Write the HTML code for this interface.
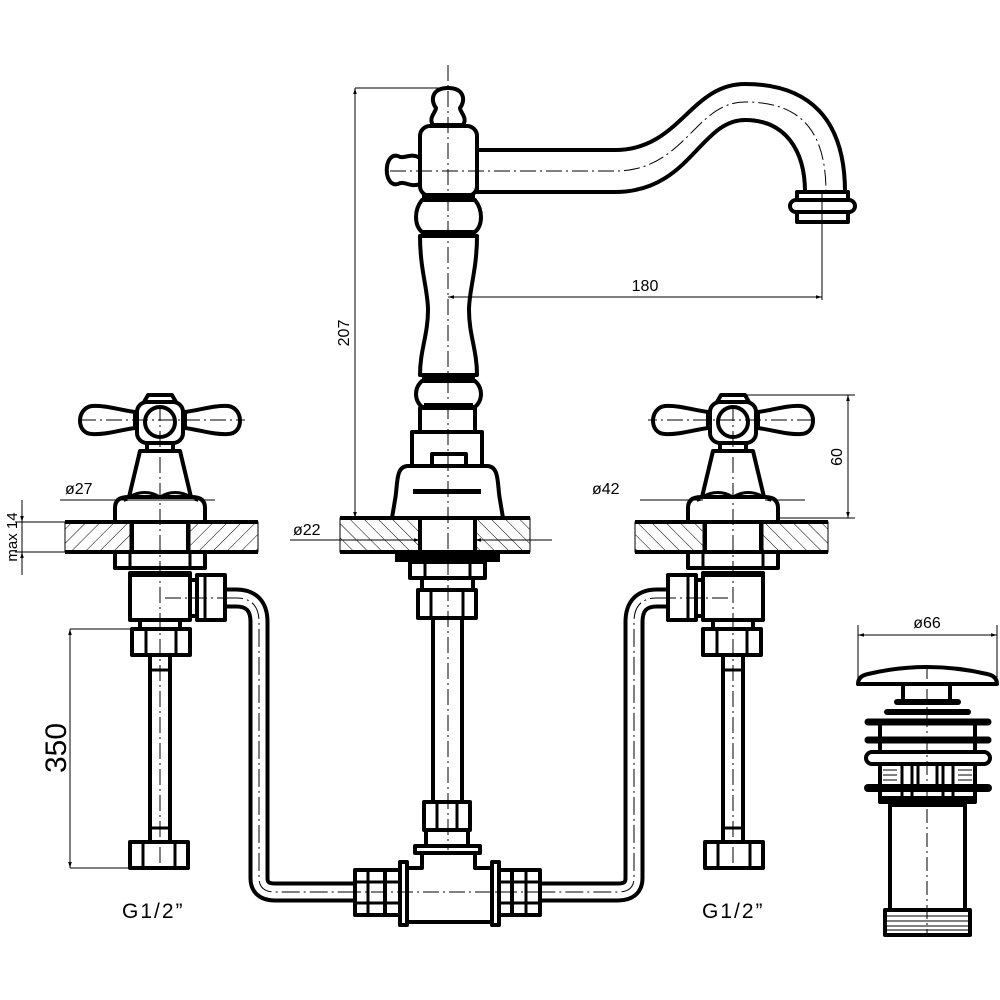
<!DOCTYPE html>
<html><head><meta charset="utf-8"><style>
html,body{margin:0;padding:0;background:#fff;}
svg{display:block;}
text{font-family:"Liberation Sans Narrow","Liberation Sans",sans-serif;fill:#000;}
</style></head><body>
<svg width="1000" height="1000" viewBox="0 0 1000 1000" xmlns="http://www.w3.org/2000/svg">
<defs>
<pattern id="h" patternUnits="userSpaceOnUse" width="10" height="10" patternTransform="rotate(45)">
<line x1="0" y1="0" x2="0" y2="10" stroke="#000" stroke-width="1"/></pattern>
<pattern id="h2" patternUnits="userSpaceOnUse" width="10" height="10" patternTransform="rotate(-45)">
<line x1="0" y1="0" x2="0" y2="10" stroke="#000" stroke-width="1"/></pattern>
<marker id="a" viewBox="0 0 10 10" refX="10" refY="5" markerWidth="10" markerHeight="6" orient="auto-start-reverse" markerUnits="userSpaceOnUse">
<path d="M0,2 L10,5 L0,8 Z" fill="#000"/></marker>
<g id="tap">
 <!-- hose -->
 <path d="M225,598 H236 Q259,598 259,622 V878 Q259,892 275,892 H356" fill="none" stroke="#000" stroke-width="21"/>
 <path d="M225,598 H236 Q259,598 259,622 V878 Q259,892 275,892 H356" fill="none" stroke="#fff" stroke-width="13"/>
 <path d="M225,598 H236 Q259,598 259,622 V878 Q259,892 275,892 H356" fill="none" stroke="#000" stroke-width="1" stroke-dasharray="18,4,2,4"/>
 <g fill="#fff" stroke="#000" stroke-width="4" stroke-linejoin="round">
  <path d="M185,412 C200,410 215,405 228,406 C244,408 244,434 228,434 C215,435 200,430 185,428 Z"/>
  <path d="M135,412 C120,410 105,405 92,406 C76,408 76,434 92,434 C105,435 120,430 135,428 Z"/>
  <path d="M144,402 L148,395 H172 L176,402 Z"/>
  <rect x="137" y="402" width="46" height="41" rx="10"/>
  <circle cx="160" cy="422" r="15"/>
  <rect x="147" y="443" width="26" height="8"/>
  <path d="M140,451 L180,451 L191,497 L129,497 Z"/>
  <path d="M115,522 V508 Q115,497 128,497 H192 Q205,497 205,508 V522"/>
  <rect x="115" y="552" width="90" height="16"/>
  <rect x="130" y="573" width="60" height="47"/>
  <rect x="190" y="580" width="8" height="36"/>
  <rect x="197" y="575" width="28" height="45"/>
  <rect x="140" y="620" width="40" height="9"/>
  <rect x="132" y="629" width="58" height="26"/>
  <rect x="150" y="655" width="20" height="187"/>
  <rect x="130" y="842" width="58" height="26"/>
 </g>
 <path d="M129,497 Q145,488 160,497 Q175,488 191,497" fill="none" stroke="#000" stroke-width="3"/>
 <rect x="130" y="571" width="60" height="6" fill="#000"/>
 <g stroke="#000" stroke-width="3">
  <line x1="130" y1="552" x2="130" y2="568"/><line x1="190" y1="552" x2="190" y2="568"/>
  <line x1="146" y1="629" x2="146" y2="655"/><line x1="176" y1="629" x2="176" y2="655"/>
  <line x1="143" y1="842" x2="143" y2="868"/><line x1="175" y1="842" x2="175" y2="868"/>
  <line x1="150" y1="670" x2="170" y2="670"/><line x1="150" y1="828" x2="170" y2="828"/>
  <line x1="205" y1="575" x2="205" y2="620"/>
 </g>
 <!-- deck -->
 <rect x="65" y="522" width="65" height="30" fill="url(#h)" stroke="#000" stroke-width="1"/>
 <rect x="190" y="522" width="68" height="30" fill="url(#h)" stroke="#000" stroke-width="1"/>
 <line x1="65" y1="522" x2="258" y2="522" stroke="#000" stroke-width="4"/>
 <line x1="65" y1="552" x2="258" y2="552" stroke="#000" stroke-width="4"/>
 <line x1="132" y1="522" x2="132" y2="552" stroke="#000" stroke-width="4"/>
 <line x1="188" y1="522" x2="188" y2="552" stroke="#000" stroke-width="4"/>
 <g stroke="#000" stroke-width="1" stroke-dasharray="16,4,2,4">
  <line x1="160" y1="405" x2="160" y2="870"/>
  <line x1="80" y1="420" x2="245" y2="420"/>
  <line x1="165" y1="598" x2="225" y2="598"/>
 </g>
</g>
</defs>

<use href="#tap"/>
<use href="#tap" transform="translate(893,0) scale(-1,1)"/>

<!-- center column -->
<g fill="#fff" stroke="#000" stroke-width="4" stroke-linejoin="round">
 <path d="M477,150 H615 C680,150 690,84 745,84 C810,84 845,120 845,192 H805 C805,150 785,120 745,120 C700,120 690,192 615,192 H477 Z"/>
 <rect x="797" y="192" width="51" height="30"/>
 <rect x="790" y="200" width="65" height="12" rx="6"/>
 <path d="M433,125 C428,118 436,112 436,108 C430,100 432,88 448,88 C464,88 466,100 460,108 C460,112 468,118 463,125 Z"/>
 <path d="M420,158 C410,152 404,160 398,156 C383,152 383,188 398,184 C404,180 410,188 420,184 Z"/>
 <rect x="420" y="126" width="57" height="70" rx="10"/>
 <path d="M422,200 C414,210 414,225 422,232 H475 C483,225 483,210 475,200 Z"/>
 <path d="M420,236 C420,270 428,290 428,310 C428,335 420,350 420,375 H477 C477,350 469,335 469,310 C469,290 477,270 477,236 Z"/>
 <path d="M422,381 C414,388 414,400 422,407 H475 C483,400 483,388 475,381 Z"/>
 <rect x="420" y="408" width="55" height="24"/>
 <rect x="412" y="432" width="70" height="34"/>
 <rect x="432" y="454" width="34" height="12"/>
 <path d="M408,466 C395,466 398,485 395,500 L392,518 H503 L500,500 C497,485 500,466 487,466 Z"/>
 <rect x="410" y="562" width="75" height="16"/>
 <rect x="422" y="578" width="51" height="12"/>
 <rect x="418" y="590" width="58" height="28"/>
 <rect x="433" y="618" width="29" height="184"/>
 <rect x="424" y="802" width="46" height="28"/>
 <rect x="426" y="830" width="42" height="16"/>
 <rect x="415" y="846" width="65" height="7"/>
 <path d="M422,853 V868 H407 V922 H492 V868 H475 V853 Z"/>
 <rect x="400" y="862" width="7" height="63"/>
 <rect x="492" y="862" width="7" height="63"/>
 <rect x="385" y="870" width="15" height="45"/>
 <rect x="355" y="870" width="30" height="45"/>
 <rect x="499" y="870" width="13" height="45"/>
 <rect x="512" y="870" width="28" height="45"/>
</g>
<g fill="#000">
 <rect x="422" y="193" width="53" height="7"/><rect x="422" y="230" width="53" height="6"/>
 <rect x="422" y="374" width="53" height="7"/><rect x="424" y="403" width="49" height="4"/>
 <rect x="413" y="489" width="68" height="5"/>
 <rect x="395" y="554" width="105" height="8"/>
</g>
<g stroke="#000" stroke-width="3">
 <line x1="425" y1="562" x2="425" y2="578"/><line x1="470" y1="562" x2="470" y2="578"/>
 <line x1="431" y1="590" x2="431" y2="618"/><line x1="463" y1="590" x2="463" y2="618"/>
 <line x1="437" y1="802" x2="437" y2="830"/><line x1="457" y1="802" x2="457" y2="830"/>
 <line x1="368" y1="870" x2="368" y2="915"/><line x1="526" y1="870" x2="526" y2="915"/>
 <line x1="355" y1="882" x2="400" y2="882"/><line x1="355" y1="903" x2="400" y2="903"/>
 <line x1="499" y1="882" x2="540" y2="882"/><line x1="499" y1="903" x2="540" y2="903"/>
</g>
<rect x="340" y="518" width="80" height="34" fill="url(#h2)" stroke="#000" stroke-width="1"/>
<rect x="475" y="518" width="55" height="34" fill="url(#h2)" stroke="#000" stroke-width="1"/>
<line x1="340" y1="518" x2="530" y2="518" stroke="#000" stroke-width="4"/>
<line x1="340" y1="552" x2="530" y2="552" stroke="#000" stroke-width="4"/>
<line x1="420" y1="518" x2="420" y2="552" stroke="#000" stroke-width="4"/>
<line x1="475" y1="518" x2="475" y2="552" stroke="#000" stroke-width="4"/>
<g stroke="#000" stroke-width="1" stroke-dasharray="16,4,2,4" fill="none">
 <line x1="448" y1="65" x2="448" y2="850"/>
 <path d="M390,171 H615 C685,171 695,102 745,102 C800,102 826,130 826,192"/>
 <line x1="345" y1="892" x2="550" y2="892"/>
</g>
<line x1="822" y1="192" x2="822" y2="300" stroke="#000" stroke-width="1"/>

<!-- drain -->
<g fill="#fff" stroke="#000" stroke-width="4" stroke-linejoin="round">
 <rect x="890" y="805" width="75" height="130"/>
 <rect x="885" y="910" width="85" height="25"/>
 <rect x="880" y="722" width="95" height="80"/>
 <rect x="903" y="683" width="47" height="18"/>
 <path d="M858,684 Q858,676 868,674 Q927,660 987,674 Q997,676 997,684 Z"/>
 <rect x="866" y="752" width="124" height="12" rx="6"/>
</g>
<g stroke="#000" stroke-linecap="round">
 <line x1="897" y1="702" x2="958" y2="702" stroke-width="6"/>
 <line x1="887" y1="712" x2="968" y2="712" stroke-width="6"/>
 <line x1="868" y1="722" x2="988" y2="722" stroke-width="7"/>
 <line x1="868" y1="740" x2="988" y2="740" stroke-width="7"/>
 <line x1="868" y1="788" x2="988" y2="788" stroke-width="8"/>
 <line x1="880" y1="798" x2="975" y2="798" stroke-width="4"/>
</g>
<g stroke="#000" stroke-width="3">
 <line x1="902" y1="766" x2="902" y2="805"/><line x1="912" y1="766" x2="912" y2="805"/>
 <line x1="943" y1="766" x2="943" y2="805"/><line x1="953" y1="766" x2="953" y2="805"/>
 <line x1="918" y1="766" x2="918" y2="785"/><line x1="937" y1="766" x2="937" y2="785"/>
</g>
<g stroke="#000" stroke-width="1">
 <line x1="887" y1="916" x2="968" y2="916"/><line x1="887" y1="921" x2="968" y2="921"/>
 <line x1="887" y1="926" x2="968" y2="926"/><line x1="887" y1="930" x2="968" y2="930"/>
 <line x1="883" y1="770" x2="897" y2="770"/><line x1="883" y1="775" x2="897" y2="775"/><line x1="883" y1="780" x2="897" y2="780"/>
 <line x1="958" y1="770" x2="972" y2="770"/><line x1="958" y1="775" x2="972" y2="775"/><line x1="958" y1="780" x2="972" y2="780"/>
 <line x1="927" y1="665" x2="927" y2="935" stroke-dasharray="14,4,2,4"/>
 <line x1="858" y1="625" x2="858" y2="680"/><line x1="997" y1="625" x2="997" y2="680"/>
 <line x1="858" y1="635" x2="997" y2="635" marker-start="url(#a)" marker-end="url(#a)"/>
</g>

<!-- dimensions -->
<g stroke="#000" stroke-width="1" fill="none">
 <line x1="355" y1="88" x2="448" y2="88"/>
 <line x1="355" y1="88" x2="355" y2="518" marker-start="url(#a)" marker-end="url(#a)"/>
 <line x1="448" y1="297" x2="822" y2="297" marker-start="url(#a)" marker-end="url(#a)"/>
 <line x1="735" y1="395" x2="855" y2="395"/><line x1="780" y1="518" x2="855" y2="518"/>
 <line x1="848" y1="395" x2="848" y2="518" marker-start="url(#a)" marker-end="url(#a)"/>
 <line x1="70" y1="629" x2="130" y2="629"/><line x1="70" y1="868" x2="130" y2="868"/>
 <line x1="70" y1="629" x2="70" y2="868" marker-start="url(#a)" marker-end="url(#a)"/>
 <line x1="15" y1="522" x2="65" y2="522"/><line x1="15" y1="552" x2="65" y2="552"/>
 <line x1="22" y1="500" x2="22" y2="522" marker-end="url(#a)"/>
 <line x1="22" y1="575" x2="22" y2="552" marker-end="url(#a)"/>
 <line x1="22" y1="522" x2="22" y2="552"/>
 <line x1="60" y1="500" x2="130" y2="500" marker-end="url(#a)"/>
 <line x1="215" y1="500" x2="192" y2="500" marker-end="url(#a)"/>
 <line x1="130" y1="500" x2="192" y2="500"/>
 <line x1="640" y1="500" x2="703" y2="500" marker-end="url(#a)"/>
 <line x1="805" y1="500" x2="765" y2="500" marker-end="url(#a)"/>
 <line x1="290" y1="540" x2="420" y2="540" marker-end="url(#a)"/>
 <line x1="552" y1="540" x2="475" y2="540" marker-end="url(#a)"/>
</g>
<g font-size="16">
 <text x="645" y="291" text-anchor="middle">180</text>
 <text x="65" y="494">ø27</text>
 <text x="592" y="494">ø42</text>
 <text x="293" y="535">ø22</text>
 <text x="927" y="628" text-anchor="middle">ø66</text>
 <text transform="translate(349,333) rotate(-90)" text-anchor="middle">207</text>
 <text transform="translate(842,457) rotate(-90)" text-anchor="middle">60</text>
 <text transform="translate(17,537) rotate(-90)" text-anchor="middle" font-size="15">max 14</text>
 <text transform="translate(66,748) rotate(-90)" text-anchor="middle" font-size="30">350</text>
</g>
<text x="122" y="918" font-size="21" fill="#444" letter-spacing="2" style="font-family:'Liberation Sans',sans-serif;font-weight:300">G1/2”</text>
<text x="702" y="918" font-size="21" fill="#444" letter-spacing="2" style="font-family:'Liberation Sans',sans-serif;font-weight:300">G1/2”</text>
</svg>
</body></html>
